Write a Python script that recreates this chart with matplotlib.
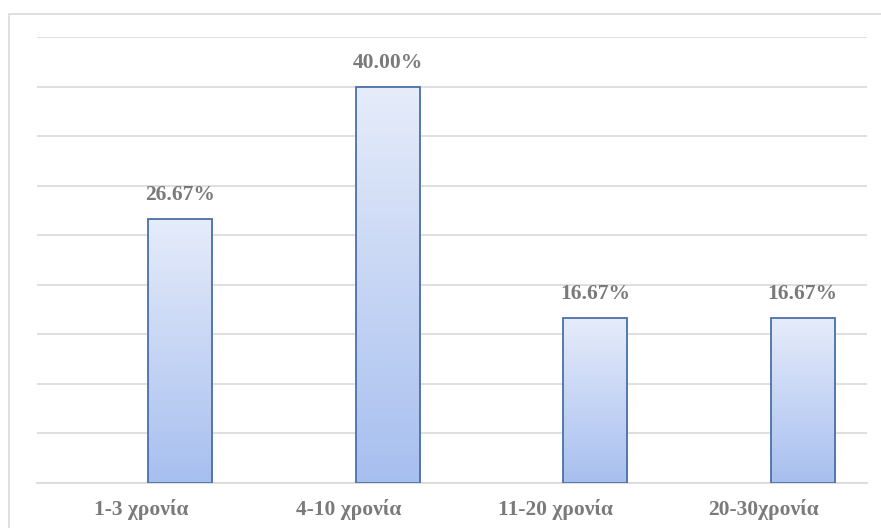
import matplotlib.pyplot as plt
import numpy as np
from matplotlib.patches import Rectangle

categories = ["1-3 χρονία", "4-10 χρονία", "11-20 χρονία", "20-30χρονία"]
values = [26.67, 40.00, 16.67, 16.67]
labels = ["26.67%", "40.00%", "16.67%", "16.67%"]

text_color = "#7a7a7a"
grid_color = "#d9d9d9"

fig = plt.figure(figsize=(8.81, 5.28), dpi=100)
ax = fig.add_axes([37 / 881, 1 - 483 / 528, 830 / 881, 446 / 528])

# outer frame
fig.patches.append(Rectangle((9 / 881, -0.1), 1.2, 1 - 14 / 528 + 0.1,
                             transform=fig.transFigure, fill=False,
                             edgecolor="#d9d9d9", linewidth=1.2))

x = np.arange(len(categories))
offset = 0.19
width = 0.31
bars = ax.bar(x + offset, values, width, color="none",
              edgecolor="#4a70a8", linewidth=1.3, zorder=3)

# gradient fill
grad = np.linspace(0, 1, 256).reshape(-1, 1)
cmap = plt.matplotlib.colors.LinearSegmentedColormap.from_list(
    "g", ["#a7bfef", "#e6ecfa"])
for b in bars:
    x0, y0 = b.get_x(), b.get_y()
    im = ax.imshow(grad, extent=[x0, x0 + b.get_width(), y0, y0 + b.get_height()],
                   origin="lower", cmap=cmap, aspect="auto", zorder=2)
    im.set_clip_path(b)

for b, lab in zip(bars, labels):
    ax.annotate(lab, (b.get_x() + b.get_width() / 2, b.get_height()),
                xytext=(0, 10), textcoords="offset points", ha="center",
                va="bottom", fontsize=15.5, fontweight="bold",
                family="Liberation Serif", color=text_color)

ax.set_xlim(-0.5, 3.5)
ax.set_ylim(0, 45)
ax.set_yticks(np.arange(0, 46, 5))
ax.yaxis.grid(True, color=grid_color, linewidth=1.2, zorder=0)
ax.set_axisbelow(True)
ax.tick_params(axis="y", left=False, labelleft=False)
ax.tick_params(axis="x", bottom=False, pad=8)
ax.set_xticks(x)
ax.set_xticklabels(categories, fontsize=15.5, fontweight="bold",
                   family="Liberation Serif", color=text_color)
for s in ["top", "right", "left"]:
    ax.spines[s].set_visible(False)
ax.spines["bottom"].set_color(grid_color)
ax.spines["bottom"].set_linewidth(1.2)

fig.savefig("out.png", dpi=100)
